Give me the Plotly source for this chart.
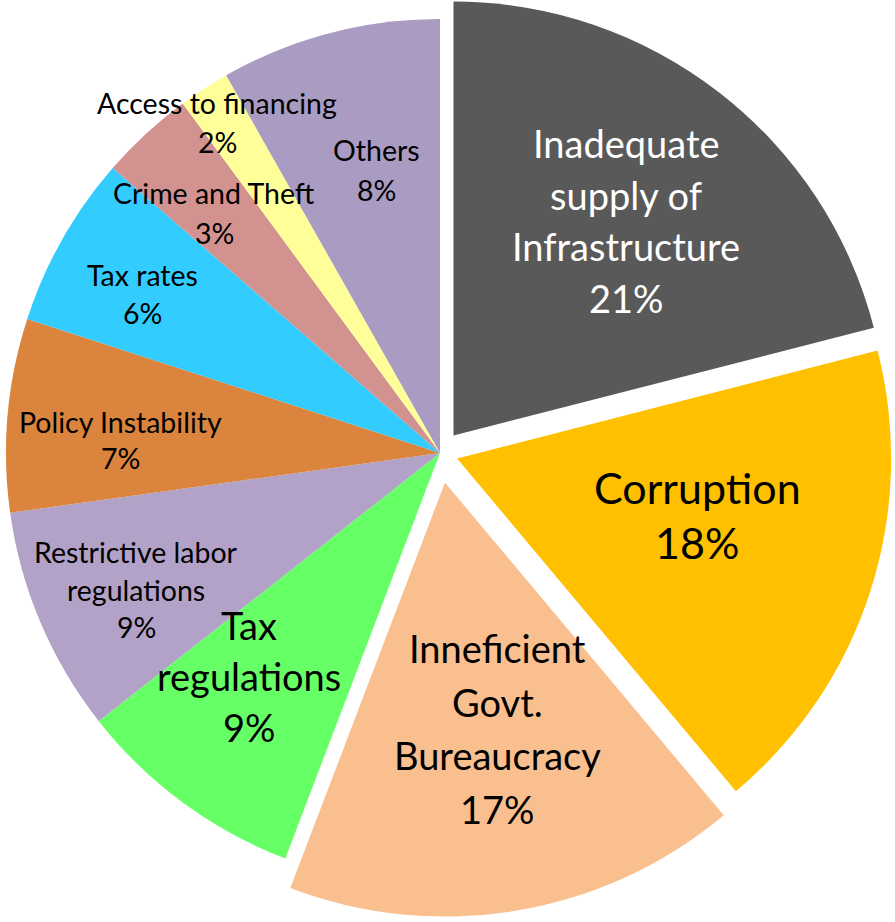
import math
import plotly.graph_objects as go

# ---- data ----
labels = ["Inadequate supply of Infrastructure", "Corruption", "Inneficient Govt. Bureaucracy",
          "Tax regulations", "Restrictive labor regulations", "Policy Instability",
          "Tax rates", "Crime and Theft", "Access to financing", "Others"]
# slice shares as drawn
values = [21.0, 17.9, 16.9, 8.6, 8.4, 7.2, 6.4, 3.5, 1.9, 8.2]
# percentages as printed on the chart
pct_text = ["21%", "18%", "17%", "9%", "9%", "7%", "6%", "3%", "2%", "8%"]
label_lines = [["Inadequate", "supply of", "Infrastructure"], ["Corruption"],
               ["Inneficient", "Govt.", "Bureaucracy"], ["Tax", "regulations"],
               ["Restrictive labor", "regulations"], ["Policy Instability"],
               ["Tax rates"], ["Crime and Theft"], ["Access to financing"], ["Others"]]

# ---- style ----
colors = ["#595959", "#FFC000", "#F9BF8F", "#66FF66", "#B3A2C7", "#DA843D",
          "#33CCFF", "#D29290", "#FFFF99", "#A99BC1"]
pull_px = [22, 18, 30, 0, 0, 0, 0, 0, 0, 0]
W, H = 895, 922
CX, CY, R = 440, 453, 434
FONT = "Lato"
# label style: (center x px, first line y px, line spacing px, font size, color)
label_style = [
    (626, 143, 51.5, 38, "white"),
    (697, 487, 55, 43, "black"),
    (497, 648, 53.5, 38, "black"),
    (249, 625, 51, 38, "black"),
    (136, 552, 37.5, 28.5, "black"),
    (120, 422, 36, 28.5, "black"),
    (142, 275, 38, 28.5, "black"),
    (214, 193, 40, 28.5, "black"),
    (217, 103, 39, 28.5, "black"),
    (376, 150, 40, 28.5, "black"),
]

total = sum(values)
TRANSP = "rgba(0,0,0,0)"


def domain_for(cx, cy):
    return dict(x=[(cx - R) / W, (cx + R) / W],
                y=[1 - (cy + R) / H, 1 - (cy - R) / H])


def pie_trace(cols, cx, cy):
    return go.Pie(labels=labels, values=values, sort=False, direction="clockwise",
                  rotation=0, textinfo="none", hoverinfo="skip", showlegend=False,
                  marker=dict(colors=cols, line=dict(width=0)),
                  domain=domain_for(cx, cy))


fig = go.Figure()
base_cols = [TRANSP if p > 0 else c for c, p in zip(colors, pull_px)]
fig.add_trace(pie_trace(base_cols, CX, CY))

cum = 0
for i, v in enumerate(values):
    mid = math.radians((cum + v / 2) / total * 360)
    cum += v
    if pull_px[i] > 0:
        dx = pull_px[i] * math.sin(mid)
        dy = -pull_px[i] * math.cos(mid)
        cols = [colors[i] if j == i else TRANSP for j in range(len(values))]
        fig.add_trace(pie_trace(cols, CX + dx, CY + dy))

annotations = []
for i in range(len(values)):
    x, y0, sp, fs, col = label_style[i]
    lines = label_lines[i] + [pct_text[i]]
    for k, line in enumerate(lines):
        annotations.append(dict(
            text=line, x=x / W, y=1 - (y0 + k * sp) / H, xref="paper", yref="paper",
            xanchor="center", yanchor="middle", showarrow=False,
            font=dict(family=FONT, size=fs, color=col)))

fig.update_layout(width=W, height=H, margin=dict(l=0, r=0, t=0, b=0),
                  paper_bgcolor="white", plot_bgcolor="white",
                  annotations=annotations)

fig.write_html("out.html")
